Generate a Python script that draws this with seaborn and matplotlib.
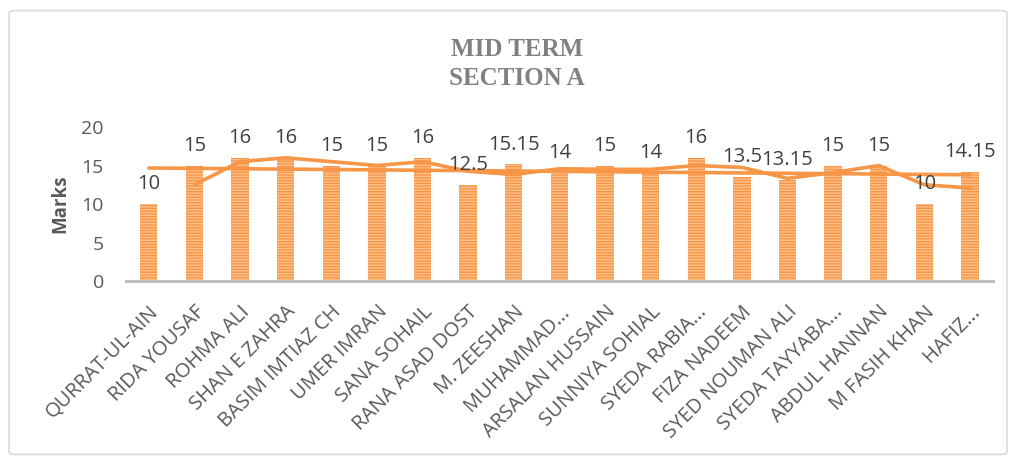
import numpy as np
import pandas as pd
import seaborn as sns
import matplotlib.pyplot as plt
from matplotlib.patches import FancyBboxPatch

# chart data
students = ["QURRAT-UL-AIN", "RIDA YOUSAF", "ROHMA ALI", "SHAN E ZAHRA", "BASIM IMTIAZ CH",
            "UMER IMRAN", "SANA SOHAIL", "RANA ASAD DOST", "M. ZEESHAN", "MUHAMMAD...",
            "ARSALAN HUSSAIN", "SUNNIYA SOHIAL", "SYEDA RABIA...", "FIZA NADEEM",
            "SYED NOUMAN ALI", "SYEDA TAYYABA...", "ABDUL HANNAN", "M FASIH KHAN", "HAFIZ..."]
marks = [10, 15, 16, 16, 15, 15, 16, 12.5, 15.15, 14, 15, 14, 16, 13.5, 13.15, 15, 15, 10, 14.15]
# 2-period moving average as drawn in the picture (starts at the 2nd student)
moving_avg = [np.nan, 12.5, 15.5, 16, 15.5, 15, 15.5, 14.25, 13.83, 14.58, 14.5, 14.5,
              15, 14.75, 13.33, 14.08, 15, 12.5, 12.08]

orange = "#F79646"
sns.set_theme(style="white")
plt.rcParams['font.family'] = ['Open Sans', 'DejaVu Sans']
plt.rcParams['hatch.linewidth'] = 1.0

df = pd.DataFrame({"student": students, "marks": marks, "ma": moving_avg})
df["pos"] = np.arange(len(df))

fig = plt.figure(figsize=(10.13, 4.59), dpi=100)
ax = fig.add_axes([0.1244, 0.3878, 0.8556, 0.3355])

sns.barplot(data=df, x="student", y="marks", color=orange, width=0.38, ax=ax,
            saturation=1, linewidth=0)
for bar in ax.patches:
    bar.set_hatch("------")
    bar.set_edgecolor("#FBC08C")
    bar.set_linewidth(0)

# linear trendline
sns.regplot(data=df, x="pos", y="marks", scatter=False, ci=None, ax=ax,
            line_kws={"color": orange, "lw": 2.6})
# moving average
sns.lineplot(data=df, x="pos", y="ma", color=orange, lw=2.6, ax=ax)

for i, v in enumerate(marks):
    ax.annotate(f"{v:g}", (i, v), xytext=(0, 7), textcoords="offset points",
                ha="center", va="bottom", fontsize=14.5, color="#404040",
                annotation_clip=False)

ax.set_xlim(-0.5, len(students) - 0.5)
ax.set_ylim(0, 20)
ax.set_yticks([0, 5, 10, 15, 20])
ax.tick_params(axis="y", labelsize=14, labelcolor="#595959", pad=16, length=0)
ax.tick_params(axis="x", labelsize=14.5, labelcolor="#595959", pad=15, length=0)
ax.set_xticks(range(len(students)))
ax.set_xticklabels(students, rotation=45, ha="right", rotation_mode="anchor")
ax.set_xlabel("")
ax.set_ylabel("Marks", fontsize=13.5, fontweight="bold", color="#595959", labelpad=8)
for s in ["top", "right", "left"]:
    ax.spines[s].set_visible(False)
ax.spines["bottom"].set_color("#BFBFBF")
ax.spines["bottom"].set_linewidth(2.2)

fig.text(0.51, 0.86, "MID TERM\nSECTION A", ha="center", va="center",
         fontsize=18, fontweight="bold", color="#808080", family="Liberation Serif",
         linespacing=1.35)

fig.patches.append(FancyBboxPatch((0.009, 0.01), 0.985, 0.967, boxstyle="round,pad=0,rounding_size=0.006",
                                  transform=fig.transFigure, fill=False,
                                  edgecolor="#D9D9D9", lw=1.2))

fig.savefig("out.png", dpi=100)
